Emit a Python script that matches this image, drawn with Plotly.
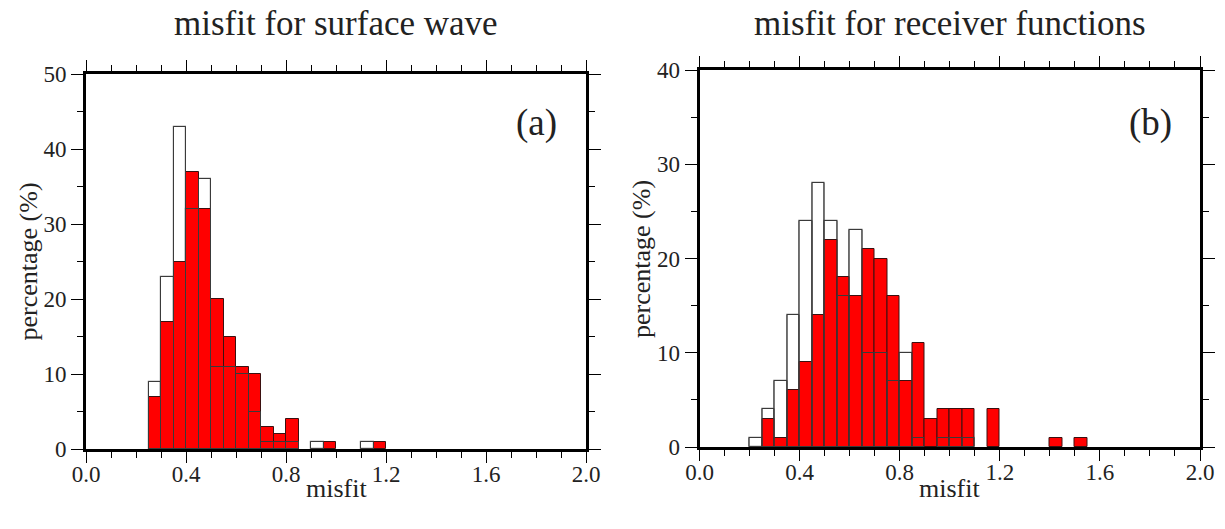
import plotly.graph_objects as go

# ---------------- data ----------------
bins_a = [0.25, 0.30, 0.35, 0.40, 0.45, 0.50, 0.55, 0.60, 0.65, 0.70,
          0.75, 0.80, 0.85, 0.90, 0.95, 1.00, 1.05, 1.10, 1.15]
white_a = [9, 23, 43, 32, 36, 11, 11, 10, 5, 1, 1, 1, 0, 1, 0, 0, 0, 1, 0]
red_a = [7, 17, 25, 37, 32, 20, 15, 11, 10, 3, 2, 4, 0, 0, 1, 0, 0, 0, 1]

bins_b = [0.20, 0.25, 0.30, 0.35, 0.40, 0.45, 0.50, 0.55, 0.60, 0.65,
          0.70, 0.75, 0.80, 0.85, 0.90, 0.95, 1.00, 1.05, 1.10, 1.15,
          1.20, 1.25, 1.30, 1.35, 1.40, 1.45, 1.50]
white_b = [1, 4, 7, 14, 24, 28, 24, 16, 23, 10, 10, 7, 10, 1, 0, 1, 1, 1,
           0, 0, 0, 0, 0, 0, 0, 0, 0]
red_b = [0, 3, 1, 6, 9, 14, 22, 18, 16, 21, 20, 16, 7, 11, 3, 4, 4, 4,
         0, 4, 0, 0, 0, 0, 1, 0, 1]

bin_width = 0.05
titles = ["misfit for surface wave", "misfit for receiver functions"]
panel_labels = ["(a)", "(b)"]
xlabel = "misfit"
ylabel = "percentage (%)"

FONT = "Liberation Serif, Times New Roman, serif"
W, H = 1225, 529

fig = go.Figure()


def nz(vals):
    return [v if v else None for v in vals]


def add_hist(bins, white, red, xa, ya):
    common = dict(x=bins, width=bin_width, offset=0, xaxis=xa, yaxis=ya,
                  showlegend=False, hoverinfo="skip")
    fig.add_trace(go.Bar(y=nz(white), marker=dict(color="white",
                  line=dict(color="#6e6e6e", width=1.2)), **common))
    fig.add_trace(go.Bar(y=nz(red), marker=dict(color="#ff0000",
                  line=dict(color="#3a1010", width=1)), **common))
    fig.add_trace(go.Bar(y=nz(white), marker=dict(color="rgba(0,0,0,0)",
                  line=dict(color="#3a3a3a", width=1)), **common))


add_hist(bins_a, white_a, red_a, "x", "y")
add_hist(bins_b, white_b, red_b, "x2", "y2")

# plot-area boxes in pixels (left, right, top, bottom)
boxes = [(86, 586, 74, 449), (699.5, 1200, 70, 447)]


def xax(box, anchor):
    l, r, t, b = box
    return dict(domain=[l / W, r / W], range=[0, 2], anchor=anchor,
                automargin=False,
                showline=True, linewidth=3, linecolor="black",
                mirror="allticks", ticks="outside", ticklen=11, tickwidth=1.3,
                tickcolor="black", dtick=0.4, tick0=0, tickformat=".1f",
                ticklabelstandoff=-9,
                minor=dict(dtick=0.1, ticklen=6, ticks="outside",
                           tickwidth=1.3, tickcolor="black", showgrid=False),
                showgrid=False, zeroline=False,
                tickfont=dict(family=FONT, size=23, color="#222"))


def yax(box, anchor, ymax):
    l, r, t, b = box
    return dict(domain=[(H - b) / H, (H - t) / H], range=[0, ymax],
                anchor=anchor, automargin=False,
                showline=True, linewidth=3, linecolor="black",
                mirror="allticks", ticks="outside", ticklen=12, tickwidth=1.3,
                tickcolor="black", dtick=10, tick0=0,
                minor=dict(dtick=5, ticklen=6, ticks="outside",
                           tickwidth=1.3, tickcolor="black", showgrid=False),
                showgrid=False, zeroline=False,
                tickfont=dict(family=FONT, size=23, color="#222"))


annotations = []
for i, (box, ymax) in enumerate(zip(boxes, [50, 40])):
    l, r, t, b = box
    cx = (l + r) / 2
    annotations.append(dict(text=titles[i], x=cx / W, y=(H - 24) / H,
                            xref="paper", yref="paper", showarrow=False,
                            xanchor="center", yanchor="middle",
                            font=dict(family=FONT, size=35, color="#222")))
    annotations.append(dict(text=xlabel, x=cx / W, y=(H - 489) / H,
                            xref="paper", yref="paper", showarrow=False,
                            xanchor="center", yanchor="middle",
                            font=dict(family=FONT, size=26, color="#222")))
    annotations.append(dict(text=ylabel, x=(l - 58) / W, y=(H - (t + b) / 2) / H,
                            xref="paper", yref="paper", showarrow=False,
                            textangle=-90, xanchor="center", yanchor="middle",
                            font=dict(family=FONT, size=26, color="#222")))
    annotations.append(dict(text=panel_labels[i], x=(r - 50) / W, y=(H - 123) / H,
                            xref="paper", yref="paper", showarrow=False,
                            xanchor="center", yanchor="middle",
                            font=dict(family=FONT, size=37, color="#222")))

fig.update_layout(
    width=W, height=H, barmode="overlay", bargap=0,
    margin=dict(l=0, r=0, t=0, b=0),
    paper_bgcolor="white", plot_bgcolor="white",
    xaxis=xax(boxes[0], "y"), yaxis=yax(boxes[0], "x", 50),
    xaxis2=xax(boxes[1], "y2"), yaxis2=yax(boxes[1], "x2", 40),
    annotations=annotations,
)

fig.write_html("out.html")
